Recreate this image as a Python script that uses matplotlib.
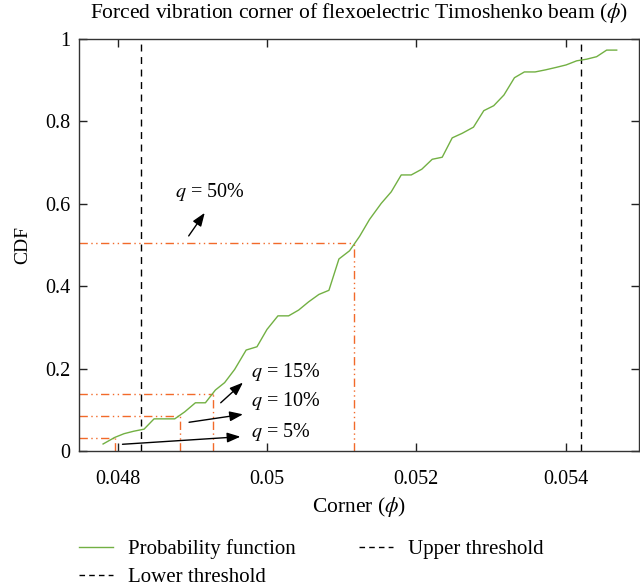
import matplotlib
matplotlib.use("Agg")
import matplotlib.pyplot as plt
from matplotlib.lines import Line2D

plt.rcParams["font.family"] = "Liberation Serif"
plt.rcParams["mathtext.fontset"] = "stix"

# CDF curve
corner = [0.047803, 0.047960, 0.048084, 0.048214, 0.048352, 0.048486, 0.048629,
          0.048763, 0.048897, 0.049040, 0.049174, 0.049308, 0.049432, 0.049566,
          0.049720, 0.049865, 0.049999, 0.050146, 0.050289, 0.050423, 0.050557,
          0.050695, 0.050829, 0.050963, 0.051106, 0.051240, 0.051373, 0.051530,
          0.051664, 0.051798, 0.051932, 0.052074, 0.052213, 0.052347, 0.052481,
          0.052614, 0.052766, 0.052904, 0.053037, 0.053174, 0.053315, 0.053448,
          0.053592, 0.053730, 0.053873, 0.054007, 0.054149, 0.054283, 0.054416,
          0.054550, 0.054685]
cdf = [0.017, 0.033, 0.042, 0.048, 0.053, 0.078, 0.078, 0.078, 0.095, 0.117,
       0.117, 0.148, 0.166, 0.198, 0.245, 0.253, 0.295, 0.328, 0.328, 0.342,
       0.362, 0.380, 0.390, 0.466, 0.486, 0.521, 0.562, 0.601, 0.629, 0.670,
       0.670, 0.684, 0.708, 0.713, 0.760, 0.771, 0.786, 0.826, 0.838, 0.864,
       0.906, 0.920, 0.920, 0.925, 0.931, 0.937, 0.947, 0.951, 0.957, 0.973,
       0.973]

lower_thr = 0.04831
upper_thr = 0.05420

# quantile points (x, y) and their labels
q_labels = ["$q$ = 5%", "$q$ = 10%", "$q$ = 15%", "$q$ = 50%"]
q_x = [0.04796, 0.04884, 0.04927, 0.05116]
q_y = [0.0316, 0.0857, 0.138, 0.505]
q_text_pos = [(0.04979, 0.047), (0.04979, 0.122), (0.04979, 0.1925), (0.04877, 0.629)]
q_arrow_tail = [(0.048063, 0.0163), (0.048955, 0.0697), (0.049379, 0.117), (0.04895, 0.522)]
q_arrow_head = [(0.049643, 0.0347), (0.049677, 0.089), (0.049677, 0.166), (0.049165, 0.578)]

green = "#72b043"
orange = "#f26a2a"
xmin, xmax = 0.04748, 0.05498

fig = plt.figure(figsize=(6.4, 5.87), dpi=100)
ax = fig.add_axes([0.1234, 0.2317, 0.8746, 0.7019])

ax.plot(corner, cdf, color=green, lw=1.0, zorder=3)
ax.axvline(lower_thr, color="black", lw=1.0, ls=(0, (5, 4)), zorder=2)
ax.axvline(upper_thr, color="black", lw=1.0, ls=(0, (5, 4)), zorder=2)

dd = (0, (6, 2.5, 1, 2.5, 1, 2.5))
for x, y in zip(q_x, q_y):
    ax.plot([xmin, x], [y, y], color=orange, lw=1.0, ls=dd, zorder=2)
    ax.plot([x, x], [0, y], color=orange, lw=1.0, ls=dd, zorder=2)

for lab, tp, tail, head in zip(q_labels, q_text_pos, q_arrow_tail, q_arrow_head):
    ax.text(tp[0], tp[1], lab, fontsize=14.5, ha="left", va="center")
    ax.annotate("", xy=head, xytext=tail,
                arrowprops=dict(arrowstyle="-|>,head_length=0.8,head_width=0.3",
                                color="black", lw=1.0, shrinkA=0, shrinkB=0))

ax.set_xlim(xmin, xmax)
ax.set_ylim(0, 1)
ax.set_xticks([0.048, 0.050, 0.052, 0.054])
ax.set_xticklabels(["0.048", "0.05", "0.052", "0.054"])
ax.set_yticks([0, 0.2, 0.4, 0.6, 0.8, 1.0])
ax.set_yticklabels(["0", "0.2", "0.4", "0.6", "0.8", "1"])
ax.tick_params(direction="in", top=True, right=True, length=6, width=1.0,
               labelsize=14.5, pad=6, colors="#222222", labelcolor="black")
ax.tick_params(axis="x", pad=14)
for s in ax.spines.values():
    s.set_color("#333333")
    s.set_linewidth(1.0)

ax.set_title(r"Forced vibration corner of flexoelectric Timoshenko beam ($\phi$)",
             fontsize=15.5, pad=15)
ax.set_xlabel(r"Corner ($\phi$)", fontsize=15.5, labelpad=4)
ax.set_ylabel("CDF", fontsize=14, labelpad=10)

handles = [Line2D([], [], color=green, lw=1.0),
           Line2D([], [], color="black", lw=1.0, ls=(0, (4, 3))),
           Line2D([], [], color="black", lw=1.0, ls=(0, (4, 3)))]
labels = ["Probability function", "Lower threshold", "Upper threshold"]
fig.legend(handles, labels, ncol=2, frameon=False, fontsize=15,
           loc="upper left", bbox_to_anchor=(0.1105, 0.096), borderaxespad=0,
           handlelength=1.65, handletextpad=0.72, columnspacing=3.0,
           labelspacing=0.4)

fig.savefig("out.png", dpi=100)
